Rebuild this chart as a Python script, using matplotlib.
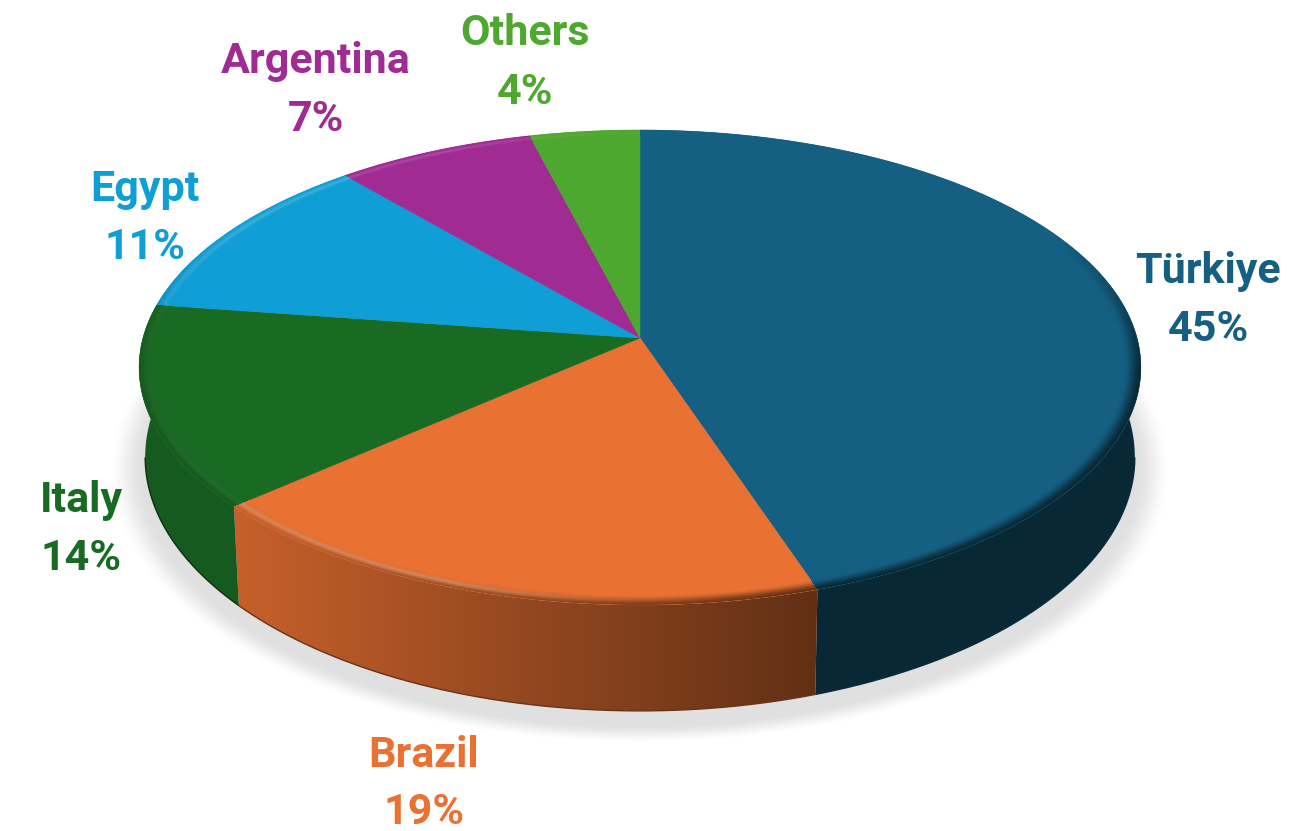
import matplotlib
matplotlib.use("Agg")
import matplotlib.pyplot as plt
from matplotlib.patches import Polygon
from matplotlib.colors import to_rgb
import numpy as np

paises = ["Türkiye", "Brazil", "Italy", "Egypt", "Argentina", "Others"]
valores = [44.9, 18.6, 13.8, 11.45, 7.25, 4.0]
colores = ["#156082", "#E97132", "#196B24", "#0F9ED5", "#A02B93", "#4EA72E"]

# baseline of country name and of percent, in pixels
pos_etiquetas = [(1208, 283, 341), (424, 767, 824), (81, 512, 570),
                 (145, 201, 259), (316, 73, 131), (525, 45, 104)]

W, H = 1314, 831
CX = 640
K = 0.124
TOP_R, TOP_S, TOP_Y = 497.0, 233.8, 338.0
BOT_R, BOT_S, BOT_Y = 491.0, 250.0, 425.5
BISEL = 0.966


def punto(theta, r, s, y0):
    # theta clockwise from 12 o'clock, tilted circle with perspective
    u = np.sin(theta)
    v = np.cos(theta)
    d = 1 + K * v
    return CX + r * u / d, y0 - s * v / d


def sombra_rim(x):
    return np.interp(x, [238, 816], [0.85, 0.42])


fig = plt.figure(figsize=(W / 100, H / 100), dpi=100)
ax = fig.add_axes([0, 0, 1, 1])

# soft shadow under the pie
yy, xx = np.mgrid[0:H, 0:W]
xx = xx + 0.5
yy = yy + 0.5
rho = np.sqrt(((xx - CX) / 515.0) ** 2 + ((yy - 470.0) / 265.0) ** 2)
t_sombra = np.clip((1.035 - rho) / 0.075, 0, 1)
t_sombra = t_sombra * t_sombra * (3 - 2 * t_sombra)
gris = 1 - 0.125 * t_sombra
ax.imshow(gris, cmap="gray", vmin=0, vmax=1, extent=(0, W, H, 0), aspect="auto", zorder=0)

acum = np.cumsum([0] + valores) / sum(valores) * 2 * np.pi

# side wall: horizontal gradient clipped to each slice
fila_x = np.arange(W) + 0.5
for i in range(len(valores)):
    base = np.array(to_rgb(colores[i]))
    a0 = max(acum[i], np.radians(70))
    a1 = min(acum[i + 1], np.radians(290))
    if a1 <= a0:
        continue
    ang = np.linspace(a0, a1, 200)
    xt, yt = punto(ang, TOP_R, TOP_S, TOP_Y)
    xb, yb = punto(ang, BOT_R, BOT_S, BOT_Y)
    contorno = np.c_[np.r_[xt, xb[::-1]], np.r_[yt, yb[::-1]]]
    parche = Polygon(contorno, closed=True, transform=ax.transData, fc="none", ec="none")
    ax.add_patch(parche)
    grad = sombra_rim(fila_x)[None, :, None] * base[None, None, :]
    im = ax.imshow(grad, extent=(0, W, H, 0), aspect="auto", interpolation="nearest", zorder=1)
    im.set_clip_path(parche)
    # darker line at the foot of the wall
    abajo = np.cos(ang) < -K
    ax.plot(xb[abajo], yb[abajo], color=base * 0.45, lw=1.0, zorder=2, solid_capstyle="butt")

# flat top of each slice
for i in range(len(valores)):
    ang = np.linspace(acum[i], acum[i + 1], 200)
    x, y = punto(ang, TOP_R, TOP_S, TOP_Y)
    ax.fill(np.r_[CX, x], np.r_[TOP_Y, y], color=colores[i], lw=0.4, zorder=3)

# bevel along the edge, worked out per pixel from the inverse perspective
up = (xx - CX) / TOP_R
vp = (TOP_Y - yy) / TOP_S
den = 1 - K * vp
u_p = up / den
v_p = vp / den
radio = np.sqrt(u_p ** 2 + v_p ** 2)
theta_p = np.arctan2(u_p, v_p) % (2 * np.pi)
rgba = np.zeros((H, W, 4))
t = np.clip((radio - BISEL) / (1 - BISEL), 0, 1)
w = np.clip((0.45 - v_p / np.maximum(radio, 1e-6)) / 0.6, 0, 1)
paso = t * t * (3 - 2 * t) * w
h = np.interp(xx, [140, 238, 450, 620, 720], [0.10, 0.20, 0.26, 0.05, 0.0])
h = h * np.exp(-((t - 0.55) / 0.22) ** 2)
sombra = sombra_rim(xx)
for i in range(len(valores)):
    base = np.array(to_rgb(colores[i]))
    dentro = (theta_p >= acum[i]) & (theta_p < acum[i + 1])
    brillo = base.max() ** 1.5
    for c in range(3):
        canal = base[c] * (1 - paso) + base[c] * sombra * paso
        canal = canal + (1 - canal) * h * brillo
        rgba[..., c][dentro] = canal[dentro]
paso_px = 1 / 380.0
borde = np.clip((1 - radio) / paso_px + 0.5, 0, 1)
rgba[..., 3] = np.where(radio > BISEL, borde, 0)
ax.imshow(rgba, extent=(0, W, H, 0), aspect="auto", interpolation="nearest", zorder=4)

for i in range(len(paises)):
    x, y1, y2 = pos_etiquetas[i]
    ax.text(x, y1, paises[i], color=colores[i], fontsize=31, fontweight="bold",
            family="Roboto", ha="center", va="baseline", zorder=5)
    ax.text(x, y2, f"{round(valores[i])}%", color=colores[i], fontsize=31, fontweight="bold",
            family="Roboto", ha="center", va="baseline", zorder=5)

ax.set_xlim(0, W)
ax.set_ylim(H, 0)
ax.axis("off")
fig.savefig("out.png", dpi=100, facecolor="white")
plt.close(fig)
